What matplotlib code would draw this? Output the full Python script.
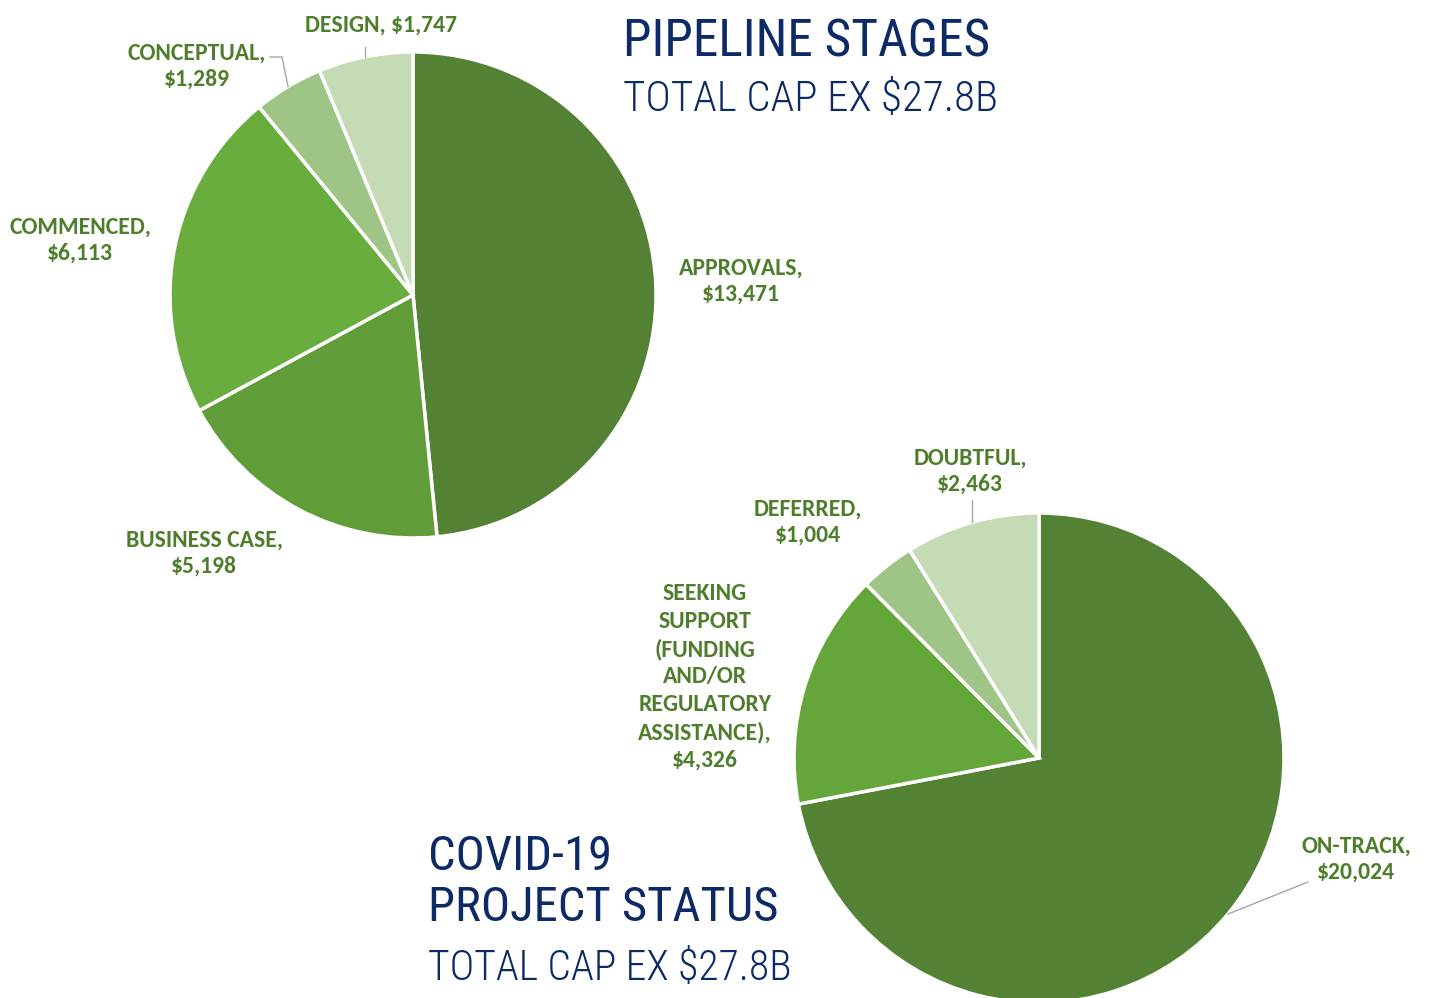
import numpy as np
import matplotlib
matplotlib.use("Agg")
import matplotlib.pyplot as plt

W, H = 1430, 998

# pipeline stages (clockwise from 12 o'clock), $M
stage_names = ["APPROVALS", "BUSINESS CASE", "COMMENCED", "CONCEPTUAL", "DESIGN"]
stage_values = [13471, 5198, 6113, 1289, 1747]

# covid-19 project status
status_names = ["ON-TRACK", "SEEKING\nSUPPORT\n(FUNDING\nAND/OR\nREGULATORY\nASSISTANCE)", "DEFERRED", "DOUBTFUL"]
status_values = [20024, 4326, 1004, 2463]

stage_colors = ["#548235", "#609d38", "#6aad3f", "#9ec486", "#c4dbb5"]
status_colors = ["#548235", "#65a63b", "#9ec486", "#c4dbb5"]

LABEL_COLOR = "#4e7e2b"
LABEL_FONT = ["Carlito", "Lato", "DejaVu Sans"]
LABEL_SIZE = 17
TITLE_COLOR = "#0c2a66"
TITLE_FONT = ["Roboto Condensed", "DejaVu Sans"]


def flip(y):
    return H - y


def draw_pie(ax, values, colors, center, radius):
    wedges, _ = ax.pie(values, colors=colors, startangle=90, counterclock=False,
                       center=(center[0], flip(center[1])), radius=radius,
                       wedgeprops=dict(edgecolor="white", linewidth=2.5))
    return wedges


def edge_point(wedge, center, radius):
    mid = np.deg2rad((wedge.theta1 + wedge.theta2) / 2)
    return center[0] + radius * np.cos(mid), flip(center[1]) + radius * np.sin(mid)


def label(ax, text, x, y, spacing=1.3):
    ax.text(x, flip(y), text, ha="center", va="center", fontsize=LABEL_SIZE,
            fontweight="bold", family=LABEL_FONT, color=LABEL_COLOR, linespacing=spacing)


fig = plt.figure(figsize=(W / 100, H / 100), dpi=100)
ax = fig.add_axes([0, 0, 1, 1])

top_c, top_r = (413, 295), 243
bot_c, bot_r = (1039, 758), 245

top_wedges = draw_pie(ax, stage_values, stage_colors, top_c, top_r)
bot_wedges = draw_pie(ax, status_values, status_colors, bot_c, bot_r)

ax.set_xlim(0, W)
ax.set_ylim(0, H)
ax.set_aspect("equal")
ax.axis("off")

# data labels
stage_pos = [(741, 281), (204, 553), (80, 240), (197, 66)]
for name, val, (x, y) in zip(stage_names[:4], stage_values[:4], stage_pos):
    label(ax, f"{name},\n${val:,}", x, y)
label(ax, f"{stage_names[4]}, ${stage_values[4]:,}", 381, 25)

label(ax, f"{status_names[0]},\n${status_values[0]:,}", 1356, 859)
label(ax, f"{status_names[1]},\n${status_values[1]:,}", 705, 677, spacing=1.38)
label(ax, f"{status_names[2]},\n${status_values[2]:,}", 808, 522)
label(ax, f"{status_names[3]},\n${status_values[3]:,}", 970, 471)

# leader lines
leader = dict(color="#a6a6a6", linewidth=1)
x0, y0 = edge_point(top_wedges[4], top_c, top_r)
ax.plot([x0, x0], [y0, flip(47)], **leader)
x0, y0 = edge_point(top_wedges[3], top_c, top_r)
ax.plot([x0, 282, 270], [y0, flip(57), flip(57)], **leader)
x0, y0 = edge_point(bot_wedges[3], bot_c, bot_r)
ax.plot([x0, x0], [y0, flip(500)], **leader)
x0, y0 = edge_point(bot_wedges[0], bot_c, bot_r)
ax.plot([x0, 1308], [y0, flip(882)], **leader)

# titles
ax.text(623, flip(42), "PIPELINE STAGES", ha="left", va="center", fontsize=37,
        family=TITLE_FONT, fontweight="normal", color=TITLE_COLOR)
ax.text(623, flip(99), "TOTAL CAP EX $27.8B", ha="left", va="center", fontsize=31,
        family=TITLE_FONT, fontweight="light", color=TITLE_COLOR)
ax.text(428, flip(857), "COVID-19", ha="left", va="center", fontsize=35,
        family=TITLE_FONT, fontweight="normal", color=TITLE_COLOR)
ax.text(428, flip(908), "PROJECT STATUS", ha="left", va="center", fontsize=35,
        family=TITLE_FONT, fontweight="normal", color=TITLE_COLOR)
ax.text(428, flip(969), "TOTAL CAP EX $27.8B", ha="left", va="center", fontsize=30,
        family=TITLE_FONT, fontweight="light", color=TITLE_COLOR)

fig.savefig("out.png", dpi=100)
